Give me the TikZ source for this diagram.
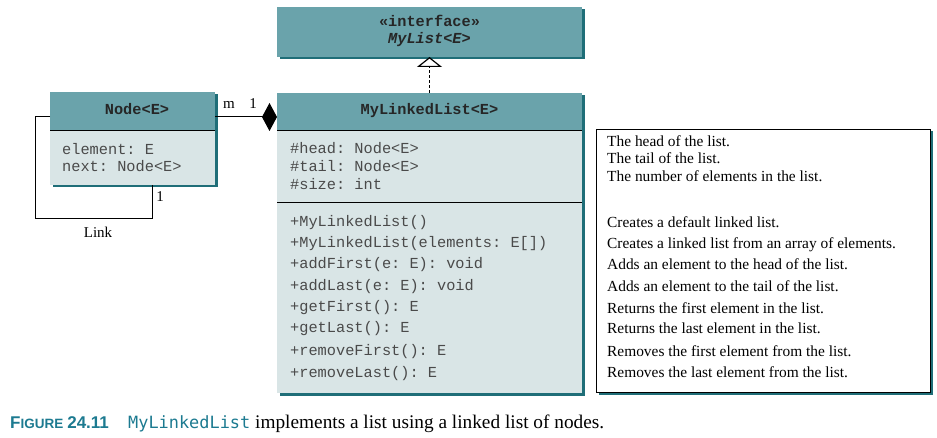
\documentclass[tikz,border=0pt]{standalone}
\usepackage{fontspec}
\setmainfont{Liberation Serif}
\setmonofont{Liberation Mono}
\newfontfamily\capsans{Liberation Sans}
\newfontfamily\capmono{DejaVu Sans Mono}
\usetikzlibrary{arrows.meta,shadows}
\definecolor{hdr}{HTML}{6AA3AB}
\definecolor{bodyc}{HTML}{D9E5E6}
\definecolor{shd}{HTML}{1F6E78}
\definecolor{captc}{HTML}{1C7A90}
\definecolor{monoc}{HTML}{4A4A4A}
\begin{document}
\begin{tikzpicture}[x=1pt,y=-1pt,
  box/.style={anchor=north west, inner sep=0pt, outer sep=0pt,
    drop shadow={shadow xshift=2.5pt, shadow yshift=-2.5pt, fill=shd, opacity=1}},
  hbox/.style={anchor=north west, inner sep=0pt, outer sep=0pt, fill=hdr},
  mono/.style={font=\fontsize{15.3}{18}\selectfont\ttfamily, text=monoc, anchor=west,
    inner sep=0pt, text height=11pt, text depth=3pt},
  monob/.style={font=\fontsize{15.3}{18}\selectfont\ttfamily\bfseries, text=black!85,
    inner sep=0pt, text height=11pt, text depth=3pt},
  serif/.style={font=\fontsize{15.4}{18}\selectfont, anchor=west, inner sep=0pt,
    text height=13pt, text depth=3pt},
  lbl/.style={font=\fontsize{15}{18}\selectfont, inner sep=0pt},
  sepline/.style={line width=1pt}
]
\useasboundingbox (0,0) rectangle (937,438);

% interface box
\node[box, fill=hdr, minimum width=305pt, minimum height=50pt] (iface) at (277,7) {};
\node[monob] (ifa) at (429.5,23) {«interface»};
\node[monob] (ifb) at (429.5,40) {\textit{MyList<E>}};

% MyLinkedList box
\node[box, fill=bodyc, minimum width=305pt, minimum height=300pt] (mll) at (277,93) {};
\node[hbox, minimum width=305pt, minimum height=38pt] (mllh) at (277,93) {};
\draw[sepline] (mllh.south west) -- (mllh.south east);
\coordinate (s2l) at (277,203);
\coordinate (s2r) at (582,203);
\draw[sepline] (s2l) -- (s2r);
\node[monob] (mllt) at (429.5,111) {MyLinkedList<E>};

\foreach \t/\y [count=\i] in {{\#head: Node<E>}/150, {\#tail: Node<E>}/168, {\#size: int}/186}
  \node[mono] (a\i) at (290,\y) {\t};
\foreach \t/\y [count=\i] in {{+MyLinkedList()}/223, {+MyLinkedList(elements: E[])}/244,
   {+addFirst(e: E): void}/265, {+addLast(e: E): void}/287, {+getFirst(): E}/308,
   {+getLast(): E}/329, {+removeFirst(): E}/351, {+removeLast(): E}/373}
  \node[mono] (m\i) at (290,\y) {\t};

% Node<E> box
\node[box, fill=bodyc, minimum width=165pt, minimum height=93pt] (nodeE) at (50,92) {};
\node[hbox, minimum width=165pt, minimum height=39pt] (nodeh) at (50,92) {};
\draw[sepline] (nodeh.south west) -- (nodeh.south east);
\node[monob] (nodet) at (137,111) {Node<E>};
\node[mono] (n1) at (62,151) {element: E};
\node[mono] (n2) at (62,168) {next: Node<E>};

% description box
\node[box, fill=white, draw=black, line width=0.8pt, minimum width=334pt, minimum height=263pt] (desc) at (596,129) {};
\foreach \t/\y [count=\i] in {{The head of the list.}/142, {The tail of the list.}/159,
   {The number of elements in the list.}/177, {Creates a default linked list.}/223,
   {Creates a linked list from an array of elements.}/244,
   {Adds an element to the head of the list.}/265,
   {Adds an element to the tail of the list.}/287,
   {Returns the first element in the list.}/308,
   {Returns the last element in the list.}/329,
   {Removes the first element from the list.}/351,
   {Removes the last element from the list.}/372}
  \node[serif] (d\i) at (607,\y) {\t};

% realization arrow
\draw[line width=1.3pt, dash pattern=on 3pt off 2pt,
  -{Triangle[open, length=10pt, width=25pt, line width=1.2pt]}] (mll.north) -- (iface.south);

% composition
\draw[line width=1pt, -{Diamond[length=15pt, width=28pt]}]
  ([yshift=-25pt]nodeE.north east) -- ([yshift=-24pt]mll.north west);
\node[lbl] (lm) at (229,105) {m};
\node[lbl] (l1) at (253,104) {1};

% self link
\coordinate (lk) at (35,219);
\draw[line width=1pt] ([yshift=-25pt]nodeE.north west) -| (lk) -| ([xshift=102pt]nodeE.south west);
\node[lbl] (l2) at (160,197) {1};
\node[lbl] (llink) at (98,232) {Link};

% caption
\node[anchor=base west, inner sep=0pt, text=captc] (capa) at (10,428)
  {\capsans\bfseries{\fontsize{17}{18}\selectfont F}{\fontsize{13.5}{18}\selectfont IGURE}\hspace{4pt}{\fontsize{17}{18}\selectfont 24.11}};
\node[anchor=base west, inner sep=0pt, text=captc, font=\capmono\fontsize{16.9}{18}\selectfont] (capb) at (128,428) {MyLinkedList};
\node[anchor=base west, inner sep=0pt, font=\fontsize{19.3}{20}\selectfont] (capc) at (255,428) {implements a list using a linked list of nodes.};
\end{tikzpicture}
\end{document}
